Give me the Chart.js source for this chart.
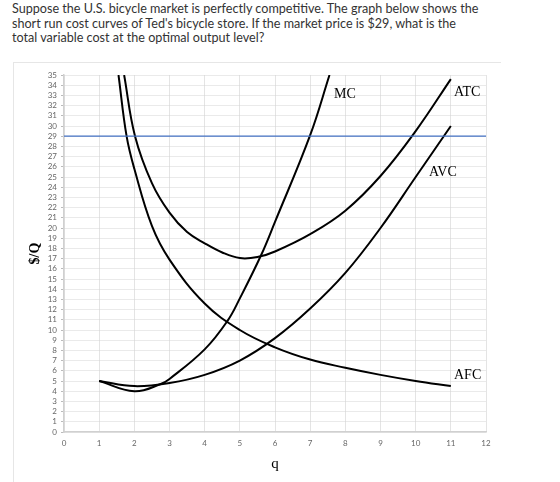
<!DOCTYPE html>
<html>
<head>
<meta charset="utf-8">
<script src="https://cdn.jsdelivr.net/npm/chart.js@4.4.1/dist/chart.umd.min.js"></script>
<style>
  body { margin: 0; background: #fff; }
  #question {
    position: absolute; left: 12px; top: 2px; width: 470px;
    font: 12.6px Lato, "Open Sans", sans-serif; line-height: 14.5px; color: #333;
  }
  #frame {
    position: absolute; left: 13px; top: 62px; width: 487px; height: 420px;
    border-top: 1px solid #e6e6e6; border-left: 1px solid #e6e6e6;
  }
  #chart { position: absolute; left: 0; top: 0; }
</style>
</head>
<body>
<div id="question">Suppose the U.S. bicycle market is perfectly competitive. The graph below shows the short run cost curves of Ted's bicycle store. If the market price is $29, what is the total variable cost at the optimal output level?</div>
<div id="frame"><canvas id="chart" width="487" height="420"></canvas></div>
<script>
// values
const mcQ = [1, 2, 2.75, 3, 4, 4.65, 5, 5.6, 6, 7, 7.55];
const mcCost = [5, 4, 4.7, 5.2, 8.1, 10.9, 13.1, 17.3, 20.6, 29.1, 35];

const avcQ = [1, 2, 3, 4, 5, 6, 7, 8, 9, 10, 11];
const avcCost = [5, 4.5, 4.8, 5.6, 7.0, 9.2, 12.1, 15.6, 20.0, 25.0, 30.0];

const atcQ = [1.71, 2.02, 2.5, 3, 3.5, 4, 4.5, 5, 5.5, 6, 7, 8, 9, 10, 11];
const atcCost = [35, 29, 24.4, 21.5, 19.6, 18.5, 17.6, 17.05, 17.15, 17.7, 19.4, 21.7, 25.1, 29.5, 34.6];

const afcQ = [1.55, 1.78, 2, 2.5, 3, 4, 5, 6, 7, 8, 9, 10, 11];
const afcCost = [35, 29, 25.8, 20.2, 16.9, 12.6, 10.0, 8.3, 7.1, 6.3, 5.6, 5.0, 4.5];

const priceQ = [0, 12];
const price = 29;

const curveNames = ['MC', 'ATC', 'AVC', 'AFC'];

function pairs(xs, ys) {
    return xs.map(function (x, i) { return { x: x, y: ys[i] }; });
}

// where each curve name sits, in data units (left edge, middle)
const labelAt = {
    MC: [7.68, 33.1],
    ATC: [11.09, 33.3],
    AVC: [10.38, 25.5],
    AFC: [11.09, 5.6]
};

const curveLabels = {
    id: 'curveLabels',
    afterDatasetsDraw(chart) {
        const ctx = chart.ctx;
        const xs = chart.scales.x, ys = chart.scales.y;
        ctx.save();
        ctx.fillStyle = '#000';
        ctx.font = '14px "Liberation Serif", serif';
        ctx.textAlign = 'left';
        ctx.textBaseline = 'middle';
        curveNames.forEach(function (name) {
            const p = labelAt[name];
            ctx.fillText(name, xs.getPixelForValue(p[0]), ys.getPixelForValue(p[1]));
        });
        ctx.restore();
    }
};

const curveStyle = {
    borderColor: '#000',
    borderWidth: 2,
    pointRadius: 0,
    fill: false,
    tension: 0.4
};

new Chart(document.getElementById('chart').getContext('2d'), {
    type: 'line',
    data: {
        datasets: [
            { data: pairs(priceQ, priceQ.map(function () { return price; })), borderColor: '#4472C4', borderWidth: 1.3, pointRadius: 0, fill: false },
            Object.assign({ data: pairs(mcQ, mcCost) }, curveStyle),
            Object.assign({ data: pairs(atcQ, atcCost) }, curveStyle),
            Object.assign({ data: pairs(avcQ, avcCost) }, curveStyle),
            Object.assign({ data: pairs(afcQ, afcCost) }, curveStyle)
        ]
    },
    options: {
        responsive: false,
        animation: false,
        layout: { padding: { left: 0, right: 15, top: 12, bottom: 0 } },
        plugins: { legend: { display: false }, tooltip: { enabled: false } },
        scales: {
            x: {
                type: 'linear', min: 0, max: 12,
                ticks: { stepSize: 1, color: '#666', font: { family: 'Lato', size: 8 }, padding: 7, maxRotation: 0 },
                grid: { color: '#e4e4e4', drawTicks: false },
                border: { color: '#d0d0d0', width: 1.5 },
                title: { display: true, text: 'q', color: '#000', font: { family: '"Liberation Serif", serif', size: 15 }, padding: { top: 0, bottom: 10 } },
                afterFit(scale) { scale.height = 51; }
            },
            y: {
                type: 'linear', min: 0, max: 35,
                ticks: { stepSize: 1, autoSkip: false, color: '#666', font: { family: 'Lato', size: 8 }, padding: 4 },
                grid: { color: '#d4d4d4', tickLength: 3, tickColor: '#bbb', tickBorderDash: [] },
                border: { color: '#d0d0d0', width: 1.5, dash: [1, 1] },
                title: { display: true, text: '$/Q', color: '#000', font: { family: '"Liberation Serif", serif', size: 14, weight: 'bold' }, padding: { top: 12.6, bottom: 0 } },
                afterFit(scale) { scale.width = 50; }
            }
        }
    },
    plugins: [curveLabels]
});
</script>
</body>
</html>
